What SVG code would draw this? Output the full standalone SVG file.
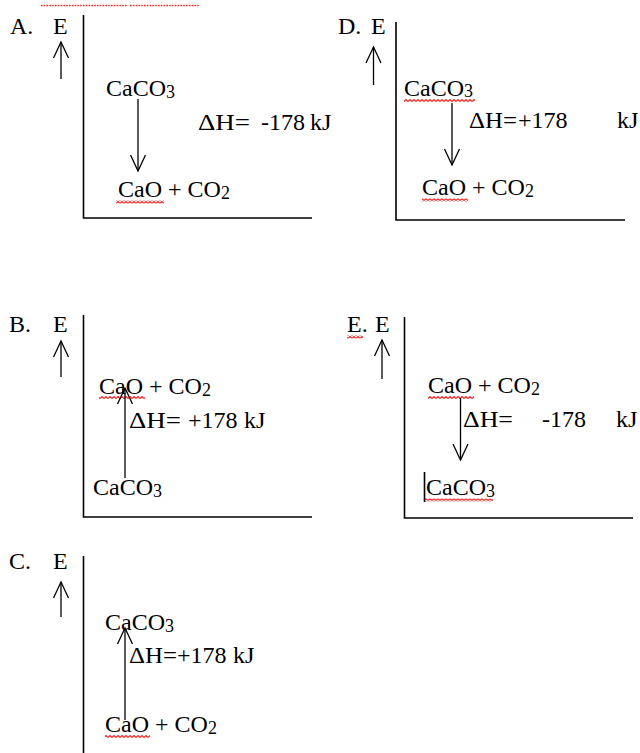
<svg xmlns="http://www.w3.org/2000/svg" width="640" height="753" viewBox="0 0 640 753">
<style>
text{font-family:"Liberation Serif","Times New Roman",serif;font-size:24px;fill:#000}
.sub{font-size:18px}
.ax{stroke:#000;stroke-width:1.6;fill:none}
.arr{stroke:#000;stroke-width:1.3;fill:none;marker-end:url(#chev)}
.sq{fill:url(#wave)}
</style>
<defs>
<marker id="chev" markerUnits="userSpaceOnUse" markerWidth="22" markerHeight="22" viewBox="-18 -11 22 22" refX="0" refY="0" orient="auto">
<path d="M-16,-7.5 L0,0 L-16,7.5" fill="none" stroke="#000" stroke-width="1.3"/>
</marker>
<pattern id="wave" width="4" height="3" patternUnits="userSpaceOnUse">
<path d="M0,2.5 L2,0.5 L4,2.5" fill="none" stroke="#ff1a1a" stroke-width="1.1"/>
</pattern>
</defs>
<rect width="640" height="753" fill="#fff"/>
<line x1="41" y1="5.5" x2="127" y2="5.5" stroke="#ff2020" stroke-width="1.6" stroke-dasharray="1.6,1.2"/>
<line x1="130" y1="5.5" x2="199" y2="5.5" stroke="#ff2020" stroke-width="1.6" stroke-dasharray="1.6,1.2"/>

<g id="panelA">
<text x="10" y="34">A.</text>
<text x="53" y="34">E</text>
<path class="ax" d="M83.5,15 V218 H312"/>
<text x="106" y="96">CaCO<tspan class="sub" dy="1.5">3</tspan></text>
<text x="198" y="130" textLength="52" lengthAdjust="spacingAndGlyphs">ΔH=</text><text x="261" y="130">-178</text><text x="310" y="130">kJ</text>
<text x="118" y="197">CaO + CO<tspan class="sub" dy="1.5">2</tspan></text>
<rect class="sq" x="116" y="200.5" width="48" height="3"/>
</g>

<g id="panelD">
<text x="338" y="34">D.</text>
<text x="371" y="34">E</text>
<path class="ax" d="M396,22 V220 H625"/>
<text x="404" y="95.5">CaCO<tspan class="sub" dy="1.5">3</tspan></text>
<rect class="sq" x="404" y="99" width="71" height="3"/>
<text x="469" y="128" textLength="48" lengthAdjust="spacingAndGlyphs">ΔH=</text><text x="518" y="128">+178</text><text x="617" y="128">kJ</text>
<text x="422" y="195">CaO + CO<tspan class="sub" dy="1.5">2</tspan></text>
<rect class="sq" x="422" y="198.5" width="46" height="3"/>
</g>

<g id="panelB">
<text x="9" y="332">B.</text>
<text x="53" y="332">E</text>
<path class="ax" d="M83.5,315 V517 H312"/>
<text x="99" y="394">CaO + CO<tspan class="sub" dy="1.5">2</tspan></text>
<rect class="sq" x="99" y="396" width="46" height="3"/>
<text x="129" y="428" textLength="52" lengthAdjust="spacingAndGlyphs">ΔH=</text><text x="188" y="428">+178</text><text x="244" y="428">kJ</text>
<text x="93" y="495">CaCO<tspan class="sub" dy="1.5">3</tspan></text>
</g>

<g id="panelE">
<text x="347" y="332">E.</text>
<rect class="sq" x="347" y="335.5" width="16" height="3"/>
<text x="375" y="332">E</text>
<path class="ax" d="M404.5,317 V518 H633"/>
<text x="428" y="393">CaO + CO<tspan class="sub" dy="1.5">2</tspan></text>
<rect class="sq" x="428" y="396" width="46" height="3"/>
<text x="463" y="427" textLength="50" lengthAdjust="spacingAndGlyphs">ΔH=</text><text x="542" y="427">-178</text><text x="616" y="427">kJ</text>
<text x="426" y="495">CaCO<tspan class="sub" dy="1.5">3</tspan></text>
<rect class="sq" x="424" y="498.5" width="69" height="3"/>
<line x1="424.5" y1="472" x2="424.5" y2="502" stroke="#000" stroke-width="1.6"/>
</g>

<g id="panelC">
<text x="9" y="569">C.</text>
<text x="53" y="569">E</text>
<path class="ax" d="M83.5,556 V753"/>
<text x="105" y="630">CaCO<tspan class="sub" dy="1.5">3</tspan></text>
<text x="129" y="663" textLength="48" lengthAdjust="spacingAndGlyphs">ΔH=</text><text x="177" y="663">+178</text><text x="233" y="663">kJ</text>
<text x="105" y="732">CaO + CO<tspan class="sub" dy="1.5">2</tspan></text>
<rect class="sq" x="105" y="735" width="45" height="3"/>
</g>

<g id="connectors">
<line class="arr" x1="61" y1="79" x2="61" y2="42"/>
<line class="arr" x1="138" y1="99" x2="138" y2="171"/>
<line class="arr" x1="373.5" y1="85" x2="373.5" y2="47"/>
<line class="arr" x1="452" y1="103" x2="452" y2="165"/>
<line class="arr" x1="61" y1="377" x2="61" y2="341"/>
<line class="arr" x1="125" y1="478" x2="125" y2="388"/>
<line class="arr" x1="382" y1="379" x2="382" y2="340"/>
<line class="arr" x1="460.5" y1="398" x2="460.5" y2="460"/>
<line class="arr" x1="61" y1="617" x2="61" y2="582"/>
<line class="arr" x1="125" y1="720" x2="125" y2="628"/>
</g>
</svg>
